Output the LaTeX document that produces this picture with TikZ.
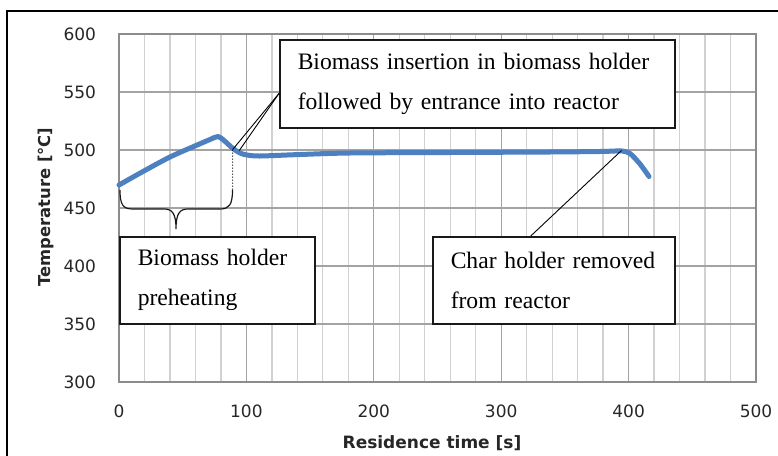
\documentclass[tikz,border=0pt]{standalone}
\usepackage{fontspec}
\setmainfont{Liberation Serif}
\newfontfamily\axisfont{DejaVu Sans}
\definecolor{seriesblue}{RGB}{76,128,192}
\begin{document}
\begin{tikzpicture}[x=1pt,y=-1pt,
  box/.style={draw=black!90, line width=1.5pt, fill=white, anchor=north west, align=left,
    inner xsep=18pt, inner ysep=0pt, font=\fontsize{23.6}{40}\selectfont},
  minorgrid/.style={draw=black!18, line width=1.3pt},
  majorgrid/.style={draw=black!36, line width=1.3pt},
  ticklab/.style={font=\axisfont\fontsize{17}{19}\selectfont, text=black!85},
  axtitle/.style={font=\axisfont\bfseries\fontsize{17}{19}\selectfont, text=black!85},
  leader/.style={draw=black, line width=0.9pt},
  curve/.style={draw=seriesblue, line width=5pt, line cap=round, line join=round},
]
\useasboundingbox (0,0) rectangle (778,455);
% outer frame (only left and top edges visible)
\draw[black, line width=2pt] (7,460) -- (7,11) -- (790,11);
% grid
\foreach \i in {1,...,24}{
  \pgfmathtruncatemacro{\m}{mod(\i,5)}
  \ifnum\m=0\relax\else
    \draw[minorgrid] ({119+\i*25.48},34) -- ({119+\i*25.48},382);
  \fi
}
\foreach \Y in {92,150,208,266,324}{
  \draw[majorgrid] (119,\Y) -- (756,\Y);
}
\foreach \i in {1,...,4}{
  \draw[majorgrid] ({119+\i*127.4},34) -- ({119+\i*127.4},382);
}
\draw[draw=black!45, line width=1.4pt] (119,34) rectangle (756,382);
% tick labels
\foreach \T/\Y in {600/34,550/92,500/150,450/208,400/266,350/324,300/382}{
  \node[ticklab, anchor=east] (ty\T) at (99.5,\Y) {\T};
}
\foreach \t in {0,100,200,300,400,500}{
  \node[ticklab] (tx\t) at ({119+\t*1.274},411) {\t};
}
\node[axtitle, rotate=90, font=\axisfont\bfseries\fontsize{16.4}{19}\selectfont] (ytitle) at (46,207) {Temperature [°C]};
\node[axtitle] (xtitle) at (432,443) {Residence time [s]};
% data curve
\draw[curve] plot[smooth, tension=0.5] coordinates {
  (119,185) (143,171.5) (170,157) (196,145.5) (210,139.5) (218,136.5) (224,140.5)
  (233,148.5) (240,153) (247,155) (260,156) (300,154.5) (350,153) (450,152.5)
  (550,152) (600,151.5) (615,151) (622,151) (630,153.5) (640,164) (649,176.5)};
% key points
\coordinate (pA) at (232.7,149.5);
\coordinate (pB) at (239.3,150.5);
\coordinate (pC) at (621.5,150.5);
\coordinate (bl) at (120,190);
\coordinate (br) at (232.5,190);
\coordinate (btip) at (176,229);
% boxes
\node[box, text width=359pt, minimum height=88pt] (b1) at (279,39)
  {Biomass insertion in biomass holder\\followed by entrance into reactor};
\node[box, text width=159pt, minimum height=87pt] (b2) at (119,236)
  {Biomass holder\\preheating};
\node[box, text width=206pt, minimum height=87pt] (b3) at (432,236)
  {Char holder removed\\from reactor};
% leaders
\draw[leader] ([yshift=-9.7pt]b1.west) -- (pA);
\draw[leader] ([yshift=-9.7pt]b1.west) -- (pB);
\draw[leader] ([xshift=-23pt]b3.north) -- (pC);
\draw[black, line width=1pt, dotted] (pA) -- (br);
% brace
\draw[black!90, line width=1.2pt]
  (bl) .. controls (120,205) and (123,209) .. (133,209) -- (164,209)
  .. controls (172,209) and (176,213) .. (btip)
  .. controls (176,213) and (180,209) .. (188,209) -- (220,209)
  .. controls (229,209) and (232.5,205) .. (br);
\end{tikzpicture}
\end{document}
